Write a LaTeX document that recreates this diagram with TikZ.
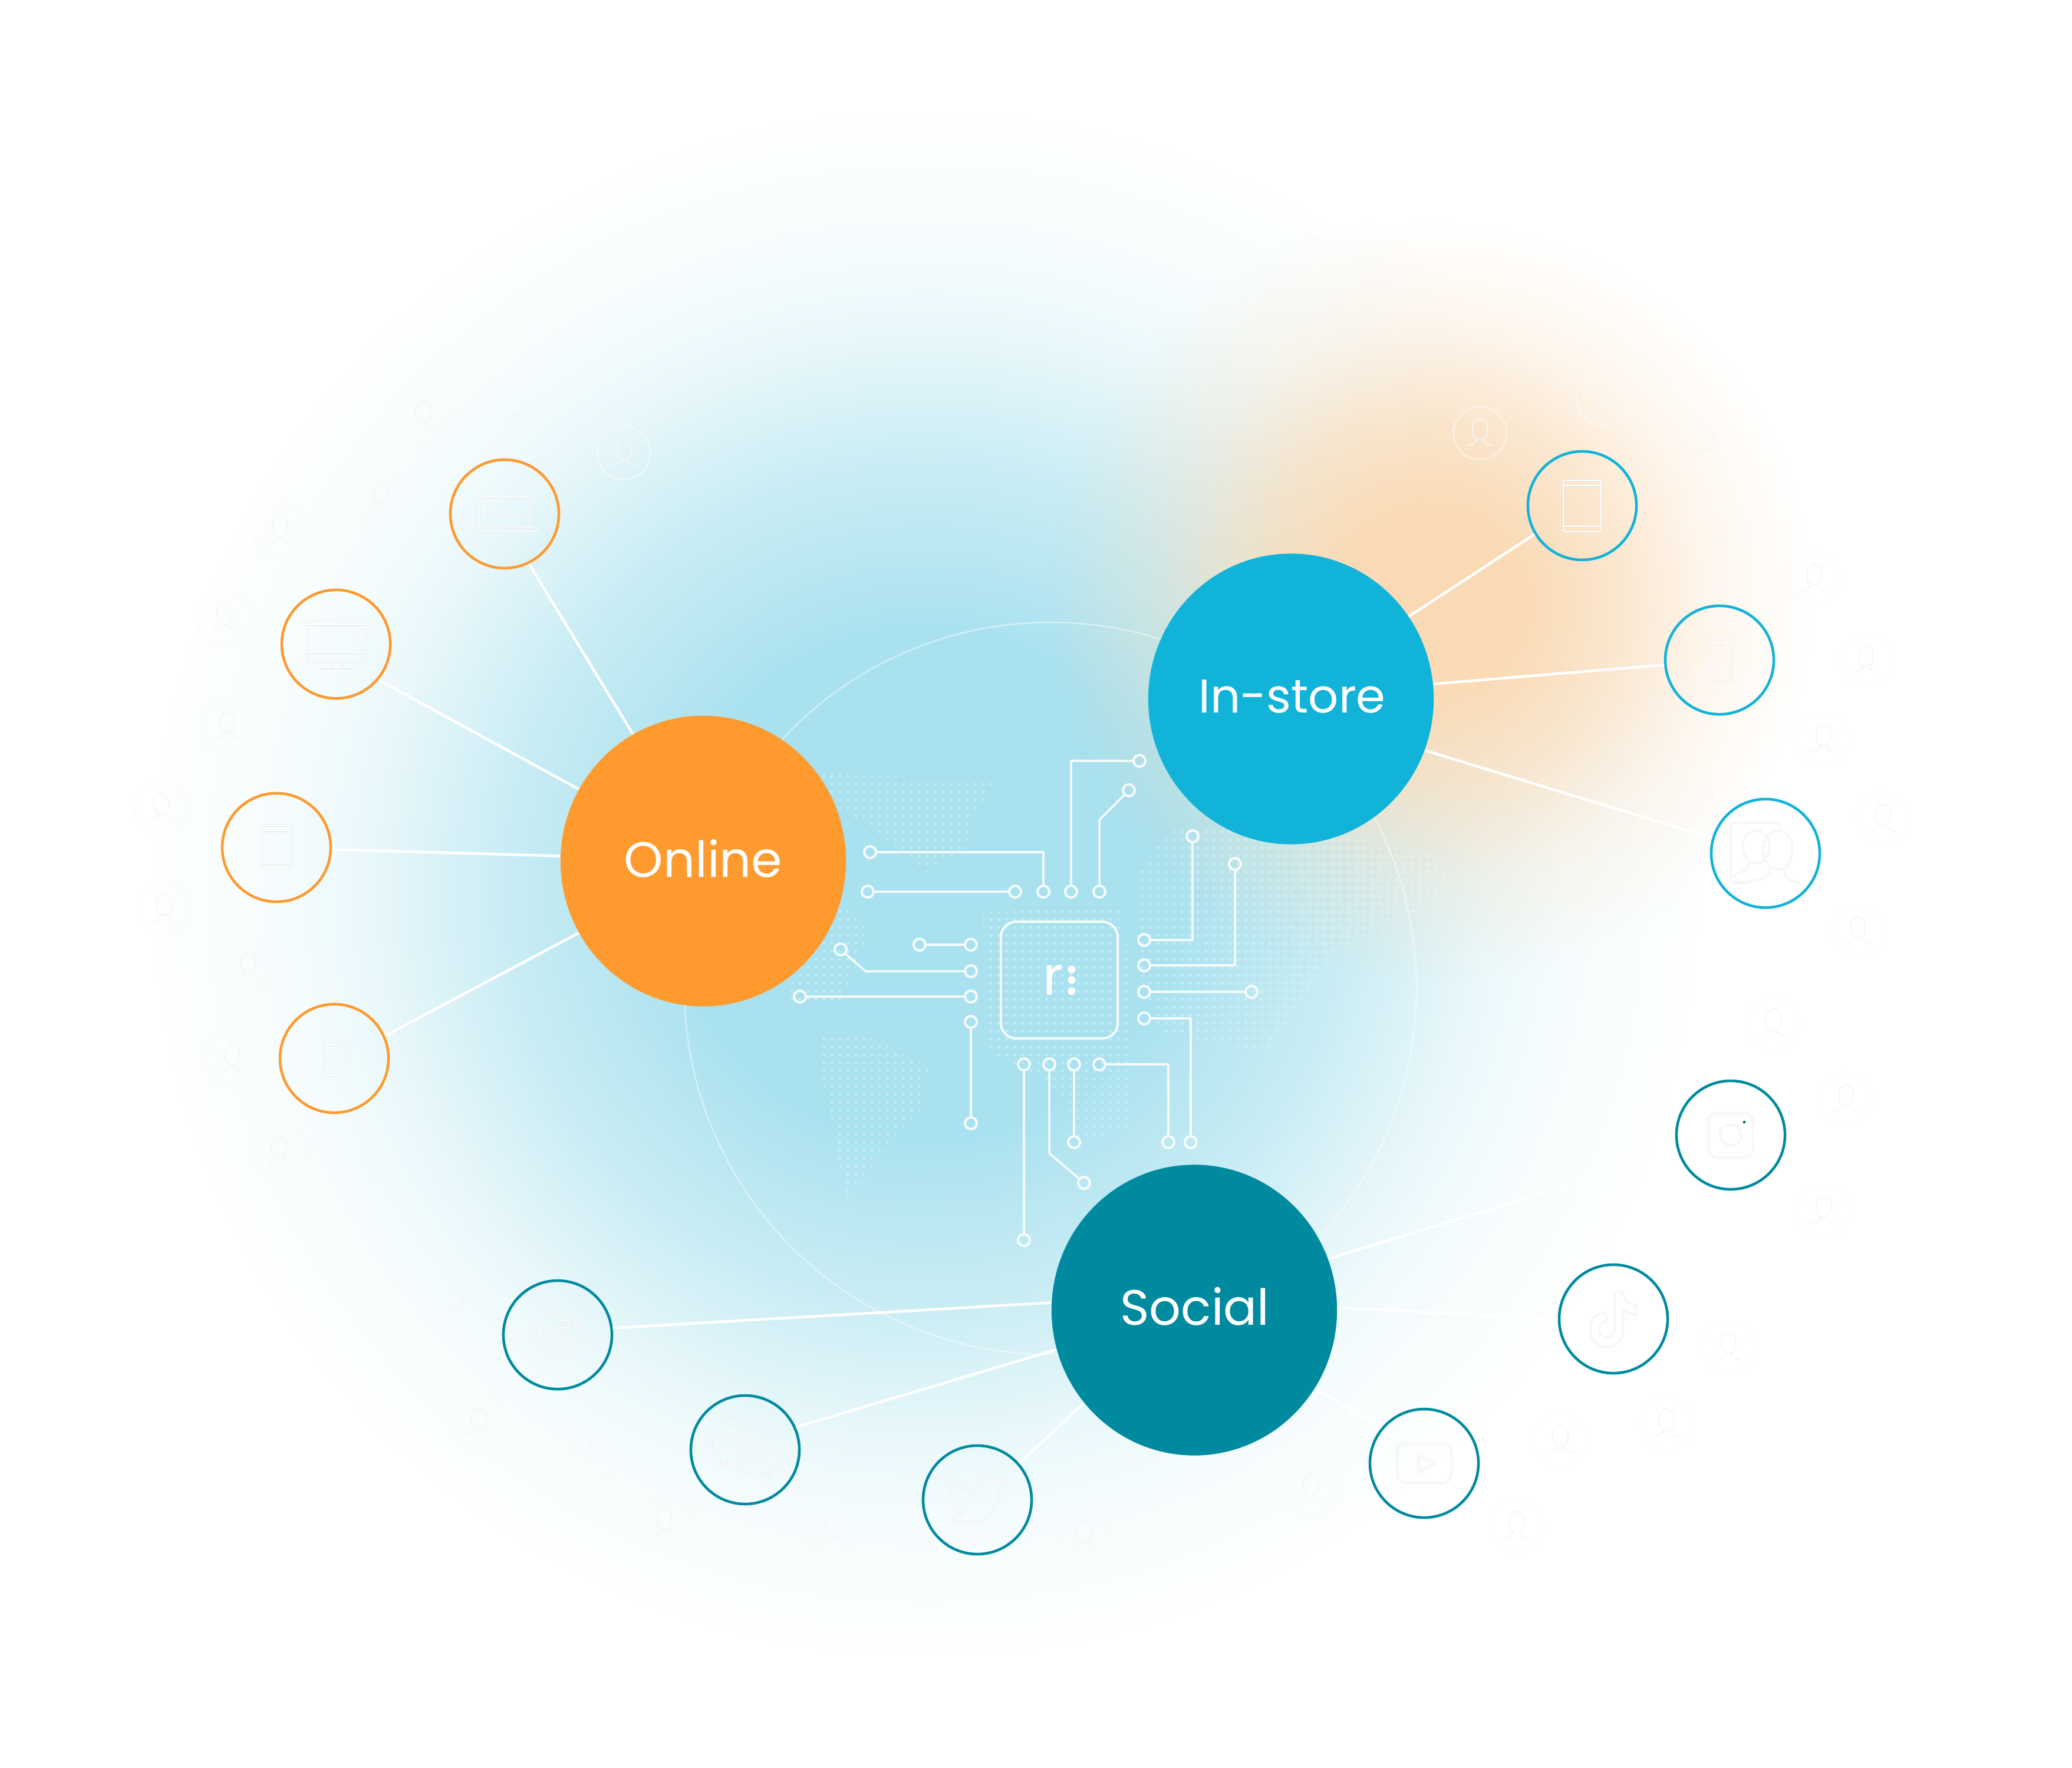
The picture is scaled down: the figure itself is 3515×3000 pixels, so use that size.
\documentclass[tikz,border=0pt]{standalone}
\usepackage{fontspec}
\setmainfont{Poppins}
\usetikzlibrary{fadings,calc,shapes.geometric}
\definecolor{cOrange}{HTML}{FF9A2F}
\definecolor{cCyan}{HTML}{12B3D9}
\definecolor{cTeal}{HTML}{008A9F}
\definecolor{bA}{HTML}{A9E1EF}
\definecolor{bB}{HTML}{C8ECF4}
\definecolor{bC}{HTML}{EAF8FB}
\definecolor{bD}{HTML}{F5FCFD}
\definecolor{oA}{HTML}{FBDAB4}
\pgfdeclareradialshading{blueblob}{\pgfpointorigin}{color(0bp)=(bA); color(7.8bp)=(bA); color(13bp)=(bB); color(17.6bp)=(bC); color(20bp)=(bD); color(25bp)=(white); color(50bp)=(white)}
\pgfdeclareradialshading{orfadesh}{\pgfpointorigin}{color(0bp)=(pgftransparent!0); color(6bp)=(pgftransparent!4); color(12bp)=(pgftransparent!36); color(18bp)=(pgftransparent!76); color(25bp)=(pgftransparent!100); color(50bp)=(pgftransparent!100)}
\pgfdeclarefading{orfade}{\pgfuseshading{orfadesh}}
\tikzset{
  hub/.style={ellipse,minimum width=4.84cm,minimum height=4.93cm,inner sep=0pt},
  hubtext/.style={text=white,inner sep=0pt,font=\fontsize{24pt}{28pt}\selectfont},
  sat/.style={circle,minimum size=1.84cm,inner sep=0pt,line width=.045cm,draw=#1},
  spoke/.style={white,line width=.045cm},
  pad/.style={circle,minimum size=.2cm,inner sep=0pt,draw=white,line width=.04cm,opacity=.88},
  trace/.style={white,line width=.035cm,opacity=.88,line join=round},
  ic/.style={draw=black!13,double=white,double distance=.02cm,line width=.005cm,line join=round},
  pface/.style={draw=black!7,double=white,double distance=.014cm,line width=.004cm,opacity=.7},
  pring/.style={draw=black!3,double=white,double distance=.022cm,line width=.004cm,opacity=.35},
  person/.pic={
    \draw[pring] (0,0) circle (45);
    \draw[pface] (0,-7) ellipse (13 and 18);
    \draw[pface] (-6,10) .. controls (-6,16) and (-12,18) .. (-20,21);
    \draw[pface] (6,10) .. controls (6,16) and (12,18) .. (20,21);
  }
}
\begin{document}
\begin{tikzpicture}[x=.01cm,y=-.01cm]
\useasboundingbox (0,0) rectangle (3515,3000);
% washes
\begin{scope}
\clip (0,0) rectangle (3515,3000);
\shade[shading=blueblob] (1570,1500) circle (1350);
\fill[oA,path fading=orfade] (2430,1020) circle (650);
\end{scope}
% faint disc
\draw[white,line width=.025cm,opacity=.45] (1782,1677) circle (621);
% dotted world map
\begin{scope}
\clip (1392,1313)--(1690,1325)--(1650,1388)--(1639,1439)--(1570,1480)--(1472,1399)--(1426,1376)--cycle
 (1409,1520)--(1472,1571)--(1466,1606)--(1426,1698)--(1334,1703)--(1346,1652)--cycle
 (1392,1755)--(1472,1755)--(1575,1812)--(1564,1881)--(1518,1927)--(1466,1996)--(1432,2042)--(1420,1939)--(1392,1824)--cycle
 (1667,1548)--(1908,1537)--(1920,1795)--(1920,1910)--(1845,1939)--(1794,1853)--(1759,1824)--(1673,1784)--cycle
 (1930,1480)--(1990,1400)--(2300,1420)--(2465,1460)--(2440,1530)--(2265,1615)--(2150,1790)--(1970,1750)--(1930,1650)--cycle;
\foreach \i in {0,...,85}
  \draw[white,opacity=.3,line width=.052cm,line cap=round,dash pattern=on 0pt off .135cm] ({1330+\i*13.5},1290) -- ({1330+\i*13.5},2060);
\end{scope}
% people
\foreach \x/\y in {472/343,392/310,320/315,288/376,212/402,170/468,172/550,122/612,124/688,188/732,176/802,211/871,280/887,345/985,362/1077,453/1097,503/1153,630/1158,820/1163,992/1127,1148/1155,1181/1090,1261/1078,1308/1020,1380/917,1397/832,1342/775,1406/705,1425/620,1380/560,1412/500,1373/438,1300/404,1291/335,1213/302,1120/328}
  \pic at ({\x*2.2417},{\y*2.2417}) {person};
% hubs
\node[hub,fill=cOrange] (on) at (1193,1461) {};
\node[hub,fill=cCyan] (st) at (2190,1186) {};
\node[hub,fill=cTeal] (so) at (2026,2223) {};
\node[hubtext] (ont) at (1193,1457) {Online};
\node[hubtext] (stt) at (2192,1182) {\fontsize{22.8pt}{28pt}\selectfont In-store};
\node[hubtext] (sot) at (2027,2217) {Social};
% satellites
\node[sat=cOrange] (s1) at (856,872) {};
\node[sat=cOrange] (s2) at (570,1093) {};
\node[sat=cOrange] (s3) at (469,1438) {};
\node[sat=cOrange] (s4) at (567,1796) {};
\node[sat=cCyan] (s5) at (2684,858) {};
\node[sat=cCyan] (s6) at (2917,1120) {};
\node[sat=cCyan] (s7) at (2995,1448) {};
\node[sat=cTeal] (s8) at (2936,1926) {};
\node[sat=cTeal] (s9) at (2737,2238) {};
\node[sat=cTeal] (s10) at (2416,2483) {};
\node[sat=cTeal] (s11) at (1658,2545) {};
\node[sat=cTeal] (s12) at (1264,2460) {};
\node[sat=cTeal] (s13) at (946,2265) {};
% spokes
\draw[spoke] (on.119.4) -- (s1.-64.5);
\draw[spoke] (on.150.9) -- (s2.-40);
\draw[spoke] (on.178.6) -- (s3.-2);
\draw[spoke] (on.210.6) -- (s4.24.6);
\draw[spoke] (st.35.8) -- (s5.211);
\draw[spoke] (st.6.6) -- (s6.185);
\draw[spoke] (st.-21) -- (s7.164);
\draw[spoke] (so.21.7) -- (s8.198);
\draw[spoke] (so.1) -- (s9.180);
\draw[spoke] (so.-33) -- (s10.140);
\draw[spoke] (so.220.5) -- (s11.41.5);
\draw[spoke] (so.196) -- (s12.24);
\draw[spoke] (so.177.4) -- (s13.7.3);
% chip
\node[draw=white,line width=.04cm,rounded corners=.26cm,minimum size=1.98cm,inner sep=0pt,opacity=.9] (chip) at (1797,1663) {};
\node[text=white,inner sep=0pt,font=\fontsize{26pt}{28pt}\selectfont] (logo) at (1787,1663) {r};
\fill[white] (1818,1645) circle (6.5) (1818,1663) circle (6.5) (1818,1682) circle (6.5);
% pads
\foreach \n/\x/\y in {a1/1476/1446,a2/1770/1513,b1/1472/1513,b2/1722/1513,c1/1817/1513,c2/1933/1291,d1/1865/1513,d3/1915/1341,e1/1560/1603,e2/1647/1603,f1/1426/1611,f3/1647/1648,g1/1357/1691,g2/1647/1691,h1/1647/1734,h2/1647/1906,i1/1737/1806,i2/1737/2104,j1/1780/1806,j3/1839/2007,k1/1822/1806,k2/1822/1938,l1/1865/1806,l2/1982/1938,m1/1941/1728,m2/2020/1938,n1/1941/1683,n2/2123/1683,o1/1941/1638,o2/2095/1466,p1/1941/1595,p2/2023/1419}
  \node[pad] (\n) at (\x,\y) {};
\coordinate (d2) at (1865,1391);
\coordinate (f2) at (1468,1648);
\coordinate (j2) at (1780,1957);
\draw[trace] (a1) -| (a2);
\draw[trace] (b1) -- (b2);
\draw[trace] (c1) |- (c2);
\draw[trace] (d1) -- (d2) -- (d3);
\draw[trace] (e1) -- (e2);
\draw[trace] (f1) -- (f2) -- (f3);
\draw[trace] (g1) -- (g2);
\draw[trace] (h1) -- (h2);
\draw[trace] (i1) -- (i2);
\draw[trace] (j1) -- (j2) -- (j3);
\draw[trace] (k1) -- (k2);
\draw[trace] (l1) -| (l2);
\draw[trace] (m1) -| (m2);
\draw[trace] (n1) -- (n2);
\draw[trace] (o1) -| (o2);
\draw[trace] (p1) -| (p2);
% icons: laptop
\begin{scope}[shift={(s1.center)}]
\draw[ic,rounded corners=.04cm] (-43,22) -- (-43,-29) -- (43,-29) -- (43,22);
\draw[ic,rounded corners=.03cm] (-55,22) rectangle (55,29);
\end{scope}
% monitor
\begin{scope}[shift={(s2.center)}]
\draw[ic,rounded corners=.04cm] (-49,-40) rectangle (49,30);
\draw[ic] (-49,-33) -- (49,-33) (-49,15) -- (49,15);
\draw[ic] (-10,30) -- (-10,40) (10,30) -- (10,40) (-28,40) -- (28,40);
\end{scope}
% tablet
\begin{scope}[shift={(s3.center)}]
\draw[ic,rounded corners=.03cm] (-26,-37) rectangle (26,36);
\draw[ic] (-26,-28) -- (26,-28) (-26,28) -- (26,28);
\end{scope}
% phone
\begin{scope}[shift={(s4.center)}]
\draw[ic,rounded corners=.03cm] (-17,-29) rectangle (17,29);
\draw[ic] (-5,-23) -- (5,-23);
\end{scope}
% tablet 2
\begin{scope}[shift={(s5.center)}]
\draw[ic,rounded corners=.03cm] (-32,-43) rectangle (32,44);
\draw[ic] (-32,-34) -- (32,-34) (-32,35) -- (32,35);
\end{scope}
% phone 2
\begin{scope}[shift={(s6.center)}]
\draw[ic,rounded corners=.03cm] (-19,-36) rectangle (19,37);
\draw[ic] (-6,-27) -- (6,-27);
\end{scope}
% users
\begin{scope}[shift={(s7.center)}]
\draw[ic,rounded corners=.06cm] (22,-40) -- (22,-52) -- (-59,-52) -- (-59,50) -- (-25,50);
\draw[ic] (-16,-11) ellipse (23 and 28);
\draw[ic] (21,-6) ellipse (25 and 33);
\draw[ic] (-28,14) .. controls (-28,28) and (-40,32) .. (-56,38);
\draw[ic] (-56,48) .. controls (-30,50) and (-5,46) .. (10,34);
\draw[ic] (8,27) .. controls (10,40) and (0,20) .. (10,34);
\draw[ic] (32,27) .. controls (32,42) and (42,48) .. (60,50);
\end{scope}
% instagram
\begin{scope}[shift={(s8.center)}]
\draw[ic,rounded corners=.14cm] (-38,-37) rectangle (38,38);
\draw[ic] (0,0) circle (18);
\fill[cTeal!60!black] (23,-22) circle (2.2);
\end{scope}
% tiktok
\begin{scope}[shift={(s9.center)}]
\draw[ic] (2,-47) -- (16,-47) .. controls (18,-32) and (28,-24) .. (39,-22) -- (39,-7)
  .. controls (30,-7) and (24,-11) .. (17,-17) -- (16,16)
  .. controls (16,36) and (4,48) .. (-11,48)
  .. controls (-28,48) and (-40,34) .. (-40,16)
  .. controls (-40,0) and (-28,-10) .. (-13,-10) -- (-9,4)
  .. controls (-18,4) and (-24,8) .. (-24,16)
  .. controls (-24,26) and (-18,31) .. (-11,31)
  .. controls (-3,31) and (2,26) .. (2,18) -- cycle;
\end{scope}
% youtube
\begin{scope}[shift={(s10.center)}]
\draw[ic,rounded corners=.14cm] (-46,-33) rectangle (46,33);
\draw[ic] (-10,-15) -- (18,0) -- (-10,15) -- cycle;
\end{scope}
% twitter
\begin{scope}[shift={(s11.center)}]
\draw[ic] (-42,-35) .. controls (-30,-20) and (-15,-14) .. (0,-13)
  .. controls (-3,-28) and (8,-39) .. (22,-39)
  .. controls (30,-39) and (34,-36) .. (38,-32) -- (47,-37) -- (41,-26) -- (47,-27) -- (36,-15)
  .. controls (38,10) and (20,39) .. (-16,39)
  .. controls (-28,39) and (-40,36) .. (-48,29)
  .. controls (-38,30) and (-30,27) .. (-23,22)
  .. controls (-32,20) and (-38,14) .. (-39,7) -- (-32,7)
  .. controls (-42,2) and (-47,-8) .. (-45,-16) -- (-38,-14)
  .. controls (-47,-20) and (-47,-28) .. (-42,-35) -- cycle;
\end{scope}
% wechat
\begin{scope}[shift={(s12.center)}]
\draw[ic] (-16,-11) ellipse (41 and 34);
\draw[ic] (22,15) ellipse (35 and 29);
\draw[ic] (-44,13) -- (-44,27) -- (-30,21);
\draw[ic] (38,41) -- (45,47) -- (44,35);
\foreach \a/\b in {-30/-22,-2/-22,10/6,33/6} \draw[ic] (\a,\b) ellipse (5 and 5);
\end{scope}
% facebook
\begin{scope}[shift={(s13.center)}]
\draw[ic] (0,0) ellipse (38 and 39);
\draw[ic] (-6,39) -- (-6,13) -- (-15,13) -- (-15,0) -- (-6,0) -- (-6,-10)
  .. controls (-6,-20) and (0,-25) .. (8,-25) -- (18,-25) -- (18,-13) -- (12,-13)
  .. controls (9,-13) and (7,-12) .. (7,-9) -- (7,0) -- (18,0) -- (16,13) -- (7,13) -- (7,39);
\end{scope}
\end{tikzpicture}
\end{document}
